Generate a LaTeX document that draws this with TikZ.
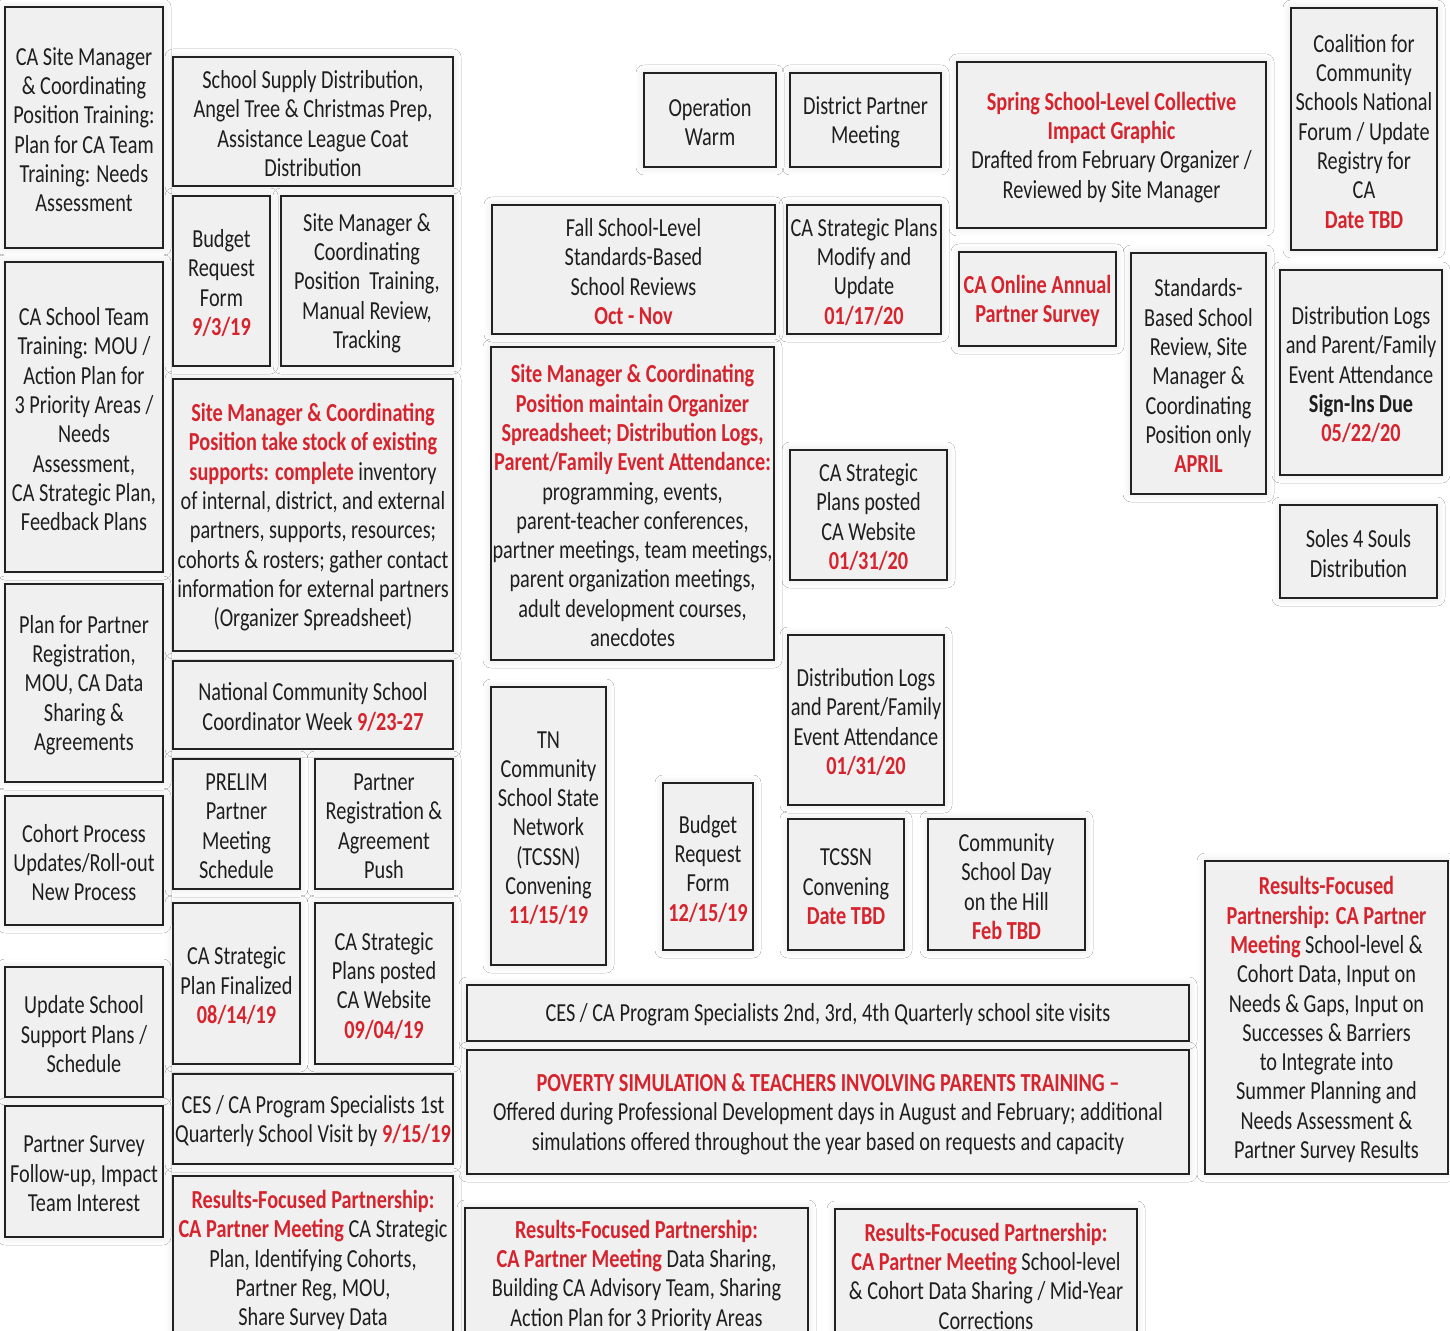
\documentclass[tikz,border=0pt]{standalone}
\usepackage{fontspec}
\setmainfont[FakeStretch=0.78]{Carlito}
\usetikzlibrary{shadows.blur}
\definecolor{cared}{RGB}{214,36,46}
\definecolor{catext}{RGB}{30,30,30}
\definecolor{cafill}{RGB}{240,240,240}
\newcommand\rd[1]{\textcolor{cared}{\textbf{#1}}}
\newcommand\bx[7][]{%
  \pgfmathsetmacro\cx{(#3+#5)/2}%
  \pgfmathsetmacro\cy{(#4+#6)/2}%
  \pgfmathsetmacro\ww{(#5-#3)*0.5}%
  \pgfmathsetmacro\hh{(#6-#4)*0.5}%
  \node[cabox,#1,minimum width=\ww pt,minimum height=\hh pt] (#2) at (\cx,\cy) {};%
  \node[catxt] (#2-t) at ([yshift=-1.1pt]#2.center) {#7};%
}
\tikzset{
  cabox/.style={draw={rgb,255:red,34;green,34;blue,34}, line width=1.25pt, fill=cafill,
    inner sep=0pt,
    blur shadow={shadow xshift=0pt, shadow yshift=0pt, shadow blur radius=4pt, shadow opacity=12}},
  catxt/.style={inner sep=0pt, align=center, text=catext,
    font=\fontsize{13pt}{14.65pt}\selectfont}
}
\begin{document}
\begin{tikzpicture}[x=0.5pt,y=-0.5pt]
\fill[white] (0,0) rectangle (1450,1331);
\useasboundingbox (0,0) rectangle (1450,1331);
\clip (0,0) rectangle (1450,1331);
% column 1
\bx{b1}{5}{7}{163}{248}{CA Site Manager\\ \& Coordinating\\ Position Training:\\ Plan for CA Team\\ Training: Needs\\ Assessment}
\bx{b2}{5}{262}{163}{572}{CA School Team\\ Training: MOU /\\ Action Plan for\\ 3 Priority Areas /\\ Needs\\ Assessment,\\ CA Strategic Plan,\\ Feedback Plans}
\bx{b3}{5}{584}{163}{782}{Plan for Partner\\ Registration,\\ MOU, CA Data\\ Sharing \&\\ Agreements}
\bx{b4}{5}{796}{163}{925}{Cohort Process\\ Updates/Roll-out\\ New Process}
\bx{b5}{5}{967}{163}{1097}{Update School\\ Support Plans /\\ Schedule}
\bx{b6}{5}{1106}{163}{1237}{Partner Survey\\ Follow-up, Impact\\ Team Interest}
% column 2
\bx{c1}{173}{57}{453}{186}{School Supply Distribution,\\ Angel Tree \& Christmas Prep,\\ Assistance League Coat\\ Distribution}
\bx{c2}{173}{196}{270}{366}{Budget\\ Request\\ Form\\ \rd{9/3/19}}
\bx{c3}{281}{196}{453}{366}{Site Manager \&\\ Coordinating\\ Position~~Training,\\ Manual Review,\\ Tracking}
\bx{c4}{173}{379}{453}{651}{\rd{Site Manager \& Coordinating}\\ \rd{Position take stock of existing}\\ \rd{supports: complete} inventory\\ of internal, district, and external\\ partners, supports, resources;\\ cohorts \& rosters; gather contact\\ information for external partners\\ (Organizer Spreadsheet)}
\bx{c5}{173}{661}{453}{749}{National Community School\\ Coordinator Week \rd{9/23-27}}
\bx{c6}{173}{759}{300}{889}{PRELIM\\ Partner\\ Meeting\\ Schedule}
\bx{c7}{315}{759}{453}{889}{Partner\\ Registration \&\\ Agreement\\ Push}
\bx{c8}{173}{903}{300}{1064}{CA Strategic\\ Plan Finalized\\ \rd{08/14/19}}
\bx{c9}{315}{903}{453}{1064}{CA Strategic\\ Plans posted\\ CA Website\\ \rd{09/04/19}}
\bx{c10}{173}{1074}{453}{1164}{CES / CA Program Specialists 1st\\ Quarterly School Visit by \rd{9/15/19}}
\bx{c11}{173}{1176}{453}{1340}{\rd{Results-Focused Partnership:}\\ \rd{CA Partner Meeting} CA Strategic\\ Plan, Identifying Cohorts,\\ Partner Reg, MOU,\\ Share Survey Data}
% right part
\bx{d1}{644}{73}{776}{167}{Operation\\ Warm}
\bx{d2}{790}{73}{941}{167}{District Partner\\ Meeting}
\bx{d3}{957}{62}{1266}{228}{\rd{Spring School-Level Collective}\\ \rd{Impact Graphic}\\ Drafted from February Organizer /\\ Reviewed by Site Manager}
\bx{d4}{1291}{8}{1437}{250}{Coalition for\\ Community\\ Schools National\\ Forum / Update\\ Registry for\\ CA\\ \rd{Date TBD}}
\bx{d5}{492}{205}{775}{334}{Fall School-Level\\ Standards-Based\\ School Reviews\\ \rd{Oct - Nov}}
\bx{d6}{787}{205}{941}{334}{CA Strategic Plans\\ Modify and\\ Update\\ \rd{01/17/20}}
\bx{d7}{959}{252}{1116}{346}{\rd{CA Online Annual}\\ \rd{Partner Survey}}
\bx{d8}{1131}{253}{1266}{494}{Standards-\\ Based School\\ Review, Site\\ Manager \&\\ Coordinating\\ Position only\\ \rd{APRIL}}
\bx{d9}{1280}{270}{1442}{475}{Distribution Logs\\ and Parent/Family\\ Event Attendance\\ \textbf{Sign-Ins Due}\\ \rd{05/22/20}}
\bx{d10}{491}{347}{774}{660}{\rd{Site Manager \& Coordinating}\\ \rd{Position maintain Organizer}\\ \rd{Spreadsheet; Distribution Logs,}\\ \rd{Parent/Family Event Attendance:}\\ programming, events,\\ parent-teacher conferences,\\ partner meetings, team meetings,\\ parent organization meetings,\\ adult development courses,\\ anecdotes}
\bx{d11}{790}{450}{947}{580}{CA Strategic\\ Plans posted\\ CA Website\\ \rd{01/31/20}}
\bx{d12}{1280}{505}{1437}{598}{Soles 4 Souls\\ Distribution}
\bx{d13}{788}{635}{944}{805}{Distribution Logs\\ and Parent/Family\\ Event Attendance\\ \rd{01/31/20}}
\bx{d14}{491}{687}{606}{965}{TN\\ Community\\ School State\\ Network\\ (TCSSN)\\ Convening\\ \rd{11/15/19}}
\bx{d15}{663}{783}{753}{950}{Budget\\ Request\\ Form\\ \rd{12/15/19}}
\bx{d16}{788}{819}{904}{950}{TCSSN\\ Convening\\ \rd{Date TBD}}
\bx{d17}{928}{819}{1085}{950}{Community\\ School Day\\ on the Hill\\ \rd{Feb TBD}}
\bx{d18}{1205}{861}{1448}{1174}{\rd{Results-Focused}\\ \rd{Partnership: CA Partner}\\ \rd{Meeting} School-level \&\\ Cohort Data, Input on\\ Needs \& Gaps, Input on\\ Successes \& Barriers\\ to Integrate into\\ Summer Planning and\\ Needs Assessment \&\\ Partner Survey Results}
\bx{d19}{467}{985}{1189}{1041}{CES / CA Program Specialists 2nd, 3rd, 4th Quarterly school site visits}
\bx{d20}{467}{1050}{1189}{1174}{\rd{POVERTY SIMULATION \& TEACHERS INVOLVING PARENTS TRAINING --}\\ Offered during Professional Development days in August and February; additional\\ simulations offered throughout the year based on requests and capacity}
\bx{d21}{465}{1208}{808}{1338}{\rd{Results-Focused Partnership:}\\ \rd{CA Partner Meeting} Data Sharing,\\ Building CA Advisory Team, Sharing\\ Action Plan for 3 Priority Areas}
\bx{d22}{835}{1209}{1137}{1339}{\rd{Results-Focused Partnership:}\\ \rd{CA Partner Meeting} School-level\\ \& Cohort Data Sharing / Mid-Year\\ Corrections}
\end{tikzpicture}
\end{document}
